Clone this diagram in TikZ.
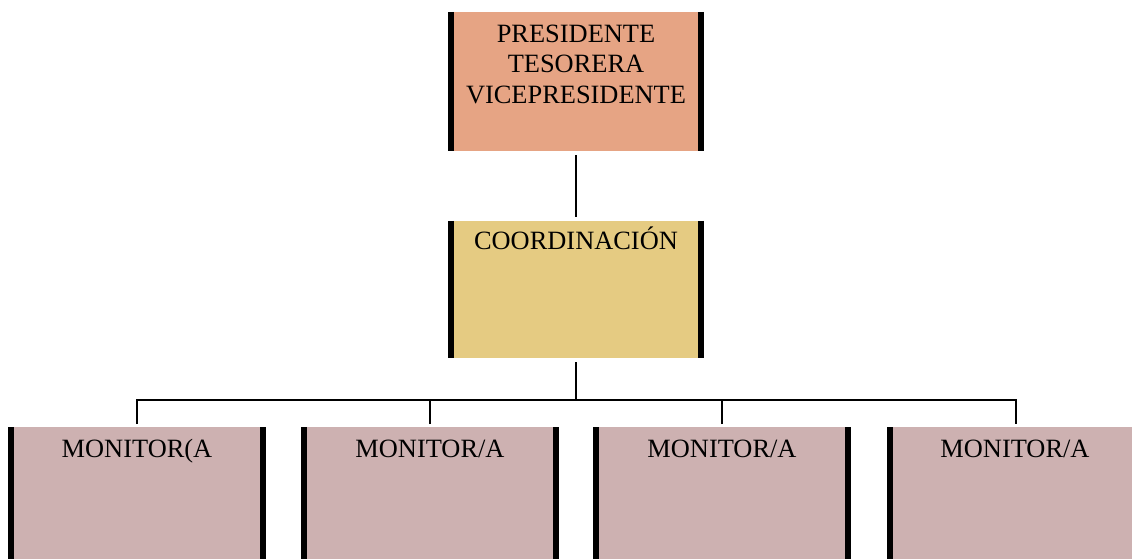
\documentclass[tikz,border=0pt]{standalone}
\usepackage{fontspec}
\setmainfont{Liberation Serif}
\definecolor{topfill}{RGB}{230,164,132}
\definecolor{coordfill}{RGB}{229,203,130}
\definecolor{monfill}{RGB}{205,177,177}
\begin{document}
\begin{tikzpicture}[x=1pt,y=-1pt,
  box/.style={rectangle,draw=none,inner sep=0pt,minimum width=256pt},
  monbox/.style={box,fill=monfill,minimum width=258pt,minimum height=150pt,anchor=north},
  lbl/.style={inner sep=0pt,align=center,anchor=base,font=\fontsize{26.4}{30.5}\selectfont},
  bar/.style={line width=6pt},
  conn/.style={line width=1.5pt}]
\useasboundingbox (0,0) rectangle (1132,558);
\begin{scope}
\clip (0,0) rectangle (1132,558);
% boxes
\node[box,fill=topfill,minimum height=139pt] (top) at (576,81.5) {};
\node[box,fill=coordfill,minimum height=137pt] (coord) at (576,289.5) {};
\node[monbox] (m1) at (137,427) {};
\node[monbox] (m2) at (430,427) {};
\node[monbox] (m3) at (722,427) {};
\node[monbox] (m4) at (1016,427) {};
% side bars
\foreach \n in {top,coord,m1,m2,m3,m4}{
  \draw[bar] ([xshift=3pt]\n.north west) -- ([xshift=3pt]\n.south west);
  \draw[bar] ([xshift=-3pt]\n.north east) -- ([xshift=-3pt]\n.south east);
}
% labels
\node[lbl] (ttop) at (576,103) {PRESIDENTE\\TESORERA\\VICEPRESIDENTE};
\node[lbl] (tcoord) at (576,249) {COORDINACIÓN};
\node[lbl] (t1) at (137,457) {MONITOR(A};
\node[lbl] (t2) at (430,457) {MONITOR/A};
\node[lbl] (t3) at (722,457) {MONITOR/A};
\node[lbl] (t4) at (1015,457) {MONITOR/A};
% connectors
\coordinate (bus) at (576,400);
\draw[conn] ([yshift=-4pt]top.south) -- ([yshift=4pt]coord.north);
\draw[conn] ([yshift=-4pt]coord.south) -- (bus);
\draw[conn] ([yshift=3pt]m1.north) |- (bus) -| ([yshift=3pt]m4.north);
\draw[conn] ([yshift=3pt]m2.north) -- (m2.north |- bus);
\draw[conn] ([yshift=3pt]m3.north) -- (m3.north |- bus);
\end{scope}
\end{tikzpicture}
\end{document}
